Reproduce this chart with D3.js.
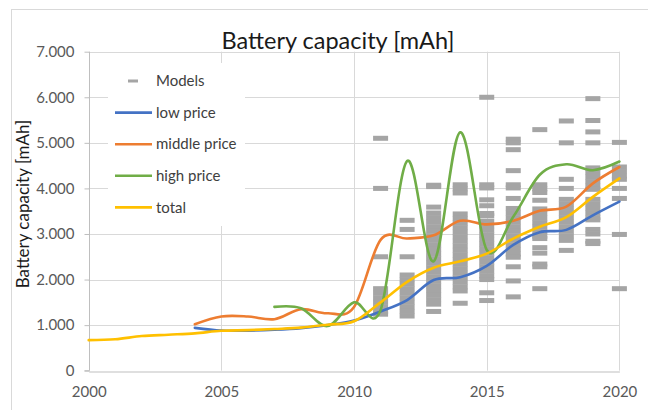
<!DOCTYPE html>
<html>
<head>
<meta charset="utf-8">
<script src="https://cdn.jsdelivr.net/npm/d3@7"></script>
<style>
  html, body { margin: 0; padding: 0; background: #fff; }
  svg { display: block; font-family: Lato, "Open Sans", sans-serif; }
</style>
</head>
<body>
<svg id="chart" width="648" height="410"></svg>
<script>
// ---------------- DATA ----------------
const chartTitle = "Battery capacity [mAh]";
const yAxisTitle = "Battery capacity [mAh]";
const xTicks = [2000, 2005, 2010, 2015, 2020];
const yTicks = [0, 1000, 2000, 3000, 4000, 5000, 6000, 7000];
const yTickLabels = ["0", "1.000", "2.000", "3.000", "4.000", "5.000", "6.000", "7.000"];

const totalYears = [2000, 2001, 2002, 2003, 2004, 2005, 2006, 2007, 2008, 2009, 2010,
                    2011, 2012, 2013, 2014, 2015, 2016, 2017, 2018, 2019, 2020];
const totalValues = [670, 690, 760, 790, 820, 875, 890, 915, 945, 1010, 1085,
                     1500, 1950, 2260, 2400, 2570, 2900, 3160, 3370, 3815, 4220];

const lowYears = [2004, 2005, 2006, 2007, 2008, 2009, 2010, 2011, 2012, 2013, 2014, 2015, 2016, 2017, 2018, 2019, 2020];
const lowValues = [940, 880, 880, 900, 935, 1000, 1100, 1300, 1550, 1990, 2050, 2300, 2760, 3040, 3090, 3410, 3710];

const midYears = [2004, 2005, 2006, 2007, 2008, 2009, 2010, 2011, 2012, 2013, 2014, 2015, 2016, 2017, 2018, 2019, 2020];
const midValues = [1020, 1190, 1190, 1130, 1350, 1260, 1400, 2870, 2900, 2970, 3290, 3210, 3290, 3510, 3600, 4110, 4470];

const highYears = [2007, 2008, 2009, 2010, 2011, 2012, 2013, 2014, 2015, 2016, 2017, 2018, 2019, 2020];
const highValues = [1400, 1370, 980, 1500, 1330, 4600, 2400, 5230, 2650, 3380, 4300, 4530, 4400, 4590];

const modelYears = [2011, 2012, 2013, 2014, 2015, 2016, 2017, 2018, 2019, 2020];
const modelValues = [
  [5100, 4000, 2500, 1800, 1700, 1600, 1500, 1400, 1300, 1240],
  [3300, 3100, 2500, 2100, 2000, 1900, 1800, 1700, 1600, 1500, 1400, 1300, 1200],
  [4070, 4040, 3590, 3460, 3360, 3260, 3160, 3060, 2960, 2860, 2760, 2660, 2560, 2460,
   2360, 2260, 2160, 2060, 1960, 1860, 1760, 1660, 1560, 1460, 1300],
  [4080, 3990, 3900, 3440, 3340, 3240, 3140, 3040, 2940, 2840, 2740, 2640, 2540, 2440,
   2340, 2240, 2140, 2040, 1940, 1840, 1750, 1480],
  [6000, 4080, 4010, 3750, 3620, 3450, 3400, 3280, 3180, 3080, 2980, 2880, 2780, 2680,
   2580, 2480, 2380, 2280, 2180, 2080, 2000, 1710, 1540],
  [5080, 5000, 4850, 4390, 4080, 4010, 3780, 3560, 3460, 3360, 3260, 3160, 3060, 2960,
   2860, 2760, 2660, 2560, 2490, 2280, 1970, 1620],
  [5290, 4080, 3990, 3910, 3740, 3550, 3450, 3350, 3250, 3150, 3050, 2950, 2900, 2700,
   2580, 2340, 2280, 1800],
  [5480, 5000, 4200, 4000, 3760, 3660, 3560, 3460, 3360, 3260, 3160, 3060, 2960, 2860, 2640],
  [5970, 5490, 5240, 5000, 4450, 4350, 4250, 4150, 4050, 3980, 3760, 3660, 3560, 3460,
   3360, 3310, 3100, 3000, 2840, 2790],
  [5010, 4470, 4370, 4270, 4200, 4000, 3780, 2990, 1800]
];

const legendLabels = ["Models", "low price", "middle price", "high price", "total"];
const seriesColors = { models: "#A5A5A5", low: "#4472C4", mid: "#ED7D31", high: "#70AD47", total: "#FFC000" };

// ---------------- DRAW ----------------
const svg = d3.select("#chart");
const W = 648, H = 410;
const plot = { left: 88.7, right: 619.4, top: 51.7, bottom: 370.7 };

const x = d3.scaleLinear().domain([2000, 2020]).range([plot.left, plot.right]);
const y = d3.scaleLinear().domain([0, 7000]).range([plot.bottom, plot.top]);

svg.append("rect").attr("width", W).attr("height", H).attr("fill", "#fff");
// chart frame
svg.append("rect").attr("x", 11.5).attr("y", 9.5).attr("width", 660).attr("height", 420)
  .attr("fill", "none").attr("stroke", "#D9D9D9").attr("stroke-width", 1);

const gridColor = "#D9D9D9";
svg.append("g").selectAll("line").data(yTicks.filter(d => d > 0)).join("line")
  .attr("x1", plot.left).attr("x2", plot.right)
  .attr("y1", d => Math.round(y(d)) + 0.5).attr("y2", d => Math.round(y(d)) + 0.5)
  .attr("stroke", gridColor).attr("stroke-width", 1);
svg.append("g").selectAll("line").data(xTicks.filter(d => d > 2000)).join("line")
  .attr("x1", d => Math.round(x(d)) + 0.5).attr("x2", d => Math.round(x(d)) + 0.5)
  .attr("y1", plot.top).attr("y2", plot.bottom)
  .attr("stroke", gridColor).attr("stroke-width", 1);

// y axis
const yAxis = d3.axisLeft(y).tickValues(yTicks).tickSize(5).tickFormat((d, i) => yTickLabels[i]).tickPadding(10);
const gy = svg.append("g").attr("transform", `translate(${Math.round(plot.left) + 0.5},0)`).call(yAxis);
gy.select(".domain").attr("stroke", "#BFBFBF").attr("d", `M-5,${y(0)}H0V${plot.top}`);
gy.selectAll(".tick line").attr("stroke", "#BFBFBF");
gy.selectAll(".tick text").attr("fill", "#595959").style("font-size", "15px").style("font-family", "Lato, sans-serif");

// x axis
const xAxis = d3.axisBottom(x).tickValues(xTicks).tickSize(0).tickFormat(d3.format("d")).tickPadding(15);
const gx = svg.append("g").attr("transform", `translate(0,${Math.round(plot.bottom) + 0.5})`).call(xAxis);
gx.select(".domain").attr("stroke", "#BFBFBF");
gx.selectAll(".tick text").attr("fill", "#595959").style("font-size", "15px").style("font-family", "Lato, sans-serif");

// models (dash markers)
const modelPoints = [];
modelYears.forEach((yr, i) => modelValues[i].forEach(v => modelPoints.push({ yr, v })));
const mW = 15, mH = 5;
svg.append("g").selectAll("rect").data(modelPoints).join("rect")
  .attr("x", d => x(d.yr) - mW / 2).attr("y", d => y(d.v) - mH / 2)
  .attr("width", mW).attr("height", mH)
  .attr("fill", seriesColors.models);

// lines
const line = d3.line().x(d => x(d[0])).y(d => y(d[1])).curve(d3.curveCardinal.tension(0));
const seriesList = [
  { years: lowYears, values: lowValues, color: seriesColors.low },
  { years: midYears, values: midValues, color: seriesColors.mid },
  { years: highYears, values: highValues, color: seriesColors.high },
  { years: totalYears, values: totalValues, color: seriesColors.total }
];
svg.append("g").selectAll("path").data(seriesList).join("path")
  .attr("d", s => line(s.years.map((yr, i) => [yr, s.values[i]])))
  .attr("fill", "none").attr("stroke", s => s.color).attr("stroke-width", 2.6)
  .attr("stroke-linejoin", "round").attr("stroke-linecap", "round");

// legend
const lg = svg.append("g");
lg.append("rect").attr("x", 108).attr("y", 63).attr("width", 137).attr("height", 163).attr("fill", "#fff");
const legendColors = [seriesColors.models, seriesColors.low, seriesColors.mid, seriesColors.high, seriesColors.total];
legendLabels.forEach((lab, i) => {
  const ly = 81 + i * 31.6;
  if (i === 0) {
    lg.append("rect").attr("x", 128).attr("y", ly - 1.5).attr("width", 10).attr("height", 3).attr("fill", legendColors[i]);
  } else {
    lg.append("line").attr("x1", 115).attr("x2", 152).attr("y1", ly).attr("y2", ly)
      .attr("stroke", legendColors[i]).attr("stroke-width", 2.6);
  }
  lg.append("text").attr("x", 156).attr("y", ly).attr("dy", "0.35em")
    .attr("fill", "#404040").style("font-size", "15px").text(lab);
});

// title
svg.append("text").attr("x", 338).attr("y", 41).attr("dy", "0.35em").attr("text-anchor", "middle")
  .attr("fill", "#1a1a1a").style("font-size", "23.5px").text(chartTitle);

// y axis title
svg.append("text").attr("transform", `translate(23,204) rotate(-90)`).attr("text-anchor", "middle")
  .attr("dy", "0.35em").attr("fill", "#1a1a1a").style("font-size", "17px").text(yAxisTitle);
</script>
</body>
</html>
